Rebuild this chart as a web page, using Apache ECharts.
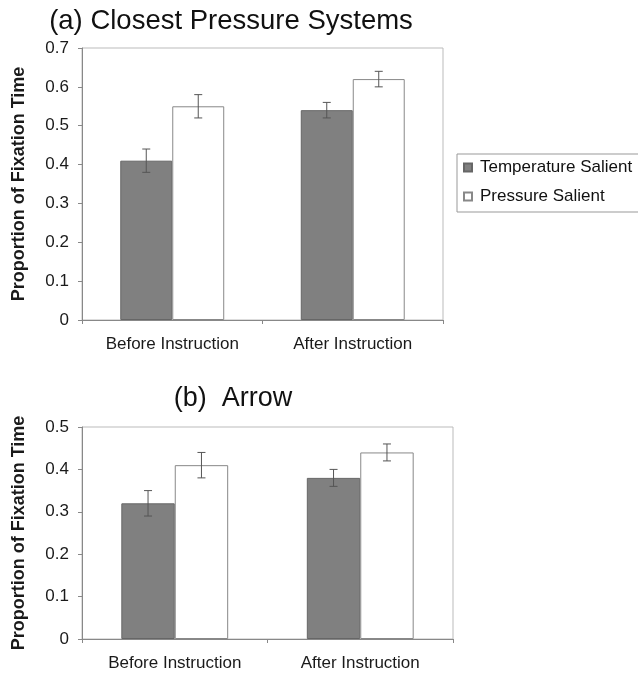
<!DOCTYPE html>
<html>
<head>
<meta charset="utf-8">
<script src="https://cdn.jsdelivr.net/npm/echarts@6/dist/echarts.min.js"></script>
<style>
html,body{margin:0;padding:0;background:#fff;}
#c{width:638px;height:676px;}
</style>
</head>
<body>
<div id="c"></div>
<script>
var categories = ['Before Instruction', 'After Instruction'];
var seriesNames = ['Temperature Salient', 'Pressure Salient'];

var aTemp = [0.41, 0.54];
var aTempLow = [0.38, 0.52];
var aTempHigh = [0.44, 0.56];
var aPress = [0.55, 0.62];
var aPressLow = [0.52, 0.60];
var aPressHigh = [0.58, 0.64];

var bTemp = [0.32, 0.38];
var bTempLow = [0.29, 0.36];
var bTempHigh = [0.35, 0.40];
var bPress = [0.41, 0.44];
var bPressLow = [0.38, 0.42];
var bPressHigh = [0.44, 0.46];

var titleA = '(a) Closest Pressure Systems';
var titleB = '(b)  Arrow';
var yName = 'Proportion of Fixation Time';

var FONT = 'Liberation Sans, Arial, sans-serif';
var BARPCT = 0.288;

function errData(low, high) {
  return low.map(function (l, i) { return [i, l, high[i]]; });
}
function errSeries(idx, low, high, side) {
  return {
    type: 'custom',
    xAxisIndex: idx, yAxisIndex: idx,
    z: 10,
    silent: true,
    data: errData(low, high),
    encode: { x: 0, y: [1, 2] },
    renderItem: function (params, api) {
      var band = api.size([1, 0])[0];
      var w = band * BARPCT;
      var p0 = api.coord([api.value(0), api.value(1)]);
      var p1 = api.coord([api.value(0), api.value(2)]);
      var x = p0[0] + side * w / 2;
      var cap = 4;
      var st = { stroke: '#555', lineWidth: 1 };
      return {
        type: 'group',
        children: [
          { type: 'line', shape: { x1: x, y1: p0[1], x2: x, y2: p1[1] }, style: st },
          { type: 'line', shape: { x1: x - cap, y1: p0[1], x2: x + cap, y2: p0[1] }, style: st },
          { type: 'line', shape: { x1: x - cap, y1: p1[1], x2: x + cap, y2: p1[1] }, style: st }
        ]
      };
    }
  };
}

function xAx(idx) {
  return {
    type: 'category', gridIndex: idx, data: categories,
    axisLine: { lineStyle: { color: '#888', width: 1 } },
    axisTick: { show: true, length: 4, alignWithLabel: false, interval: 0, lineStyle: { color: '#888' } },
    axisLabel: { color: '#1a1a1a', fontSize: 17, fontFamily: FONT, margin: 16 }
  };
}
function yAx(idx, max) {
  return {
    type: 'value', gridIndex: idx, min: 0, max: max, interval: 0.1,
    name: yName, nameLocation: 'middle', nameGap: 54, nameRotate: 90,
    nameTextStyle: { fontSize: 18, fontWeight: 'bold', color: '#1a1a1a', fontFamily: FONT },
    axisLine: { show: true, lineStyle: { color: '#888', width: 1 } },
    axisTick: { show: true, length: 4, lineStyle: { color: '#888' } },
    axisLabel: { color: '#1a1a1a', fontSize: 17, fontFamily: FONT, margin: 13,
      formatter: function (v) { return v === 0 ? '0' : v.toFixed(1); } },
    splitLine: { show: false }
  };
}

var chart = echarts.init(document.getElementById('c'), null, { renderer: 'canvas' });
var option = {
  animation: false,
  backgroundColor: '#fff',
  textStyle: { fontFamily: FONT },
  title: [
    { text: titleA, left: 226, textAlign: 'center', top: 2,
      textStyle: { fontSize: 27.5, fontWeight: 'normal', color: '#111', fontFamily: FONT } },
    { text: titleB, left: 228, textAlign: 'center', top: 380,
      textStyle: { fontSize: 27, fontWeight: 'normal', color: '#111', fontFamily: FONT } }
  ],
  legend: {
    orient: 'vertical', left: 457, top: 154,
    data: seriesNames,
    icon: 'rect', itemWidth: 8, itemHeight: 8, itemGap: 12,
    borderColor: '#999', borderWidth: 1, padding: [5, 30, 7, 6],
    textStyle: { fontSize: 17, color: '#111', fontFamily: FONT, padding: [0, 0, 0, 3] }
  },
  grid: [
    { left: 82, top: 48, width: 361, height: 272, show: true, borderColor: '#bbb', borderWidth: 1, containLabel: false },
    { left: 82, top: 427, width: 371, height: 212, show: true, borderColor: '#bbb', borderWidth: 1, containLabel: false }
  ],
  xAxis: [xAx(0), xAx(1)],
  yAxis: [yAx(0, 0.7), yAx(1, 0.5)],
  series: [
    { name: seriesNames[0], type: 'bar', xAxisIndex: 0, yAxisIndex: 0, data: aTemp,
      barWidth: '28.8%', barGap: '0%',
      itemStyle: { color: '#808080', borderColor: '#666', borderWidth: 1 } },
    { name: seriesNames[1], type: 'bar', xAxisIndex: 0, yAxisIndex: 0, data: aPress,
      barWidth: '28.8%', barGap: '0%',
      itemStyle: { color: '#ffffff', borderColor: '#888', borderWidth: 1 } },
    { name: seriesNames[0], type: 'bar', xAxisIndex: 1, yAxisIndex: 1, data: bTemp,
      barWidth: '28.8%', barGap: '0%',
      itemStyle: { color: '#808080', borderColor: '#666', borderWidth: 1 } },
    { name: seriesNames[1], type: 'bar', xAxisIndex: 1, yAxisIndex: 1, data: bPress,
      barWidth: '28.8%', barGap: '0%',
      itemStyle: { color: '#ffffff', borderColor: '#888', borderWidth: 1 } },
    errSeries(0, aTempLow, aTempHigh, -1),
    errSeries(0, aPressLow, aPressHigh, 1),
    errSeries(1, bTempLow, bTempHigh, -1),
    errSeries(1, bPressLow, bPressHigh, 1)
  ]
};
chart.setOption(option);
</script>
</body>
</html>
